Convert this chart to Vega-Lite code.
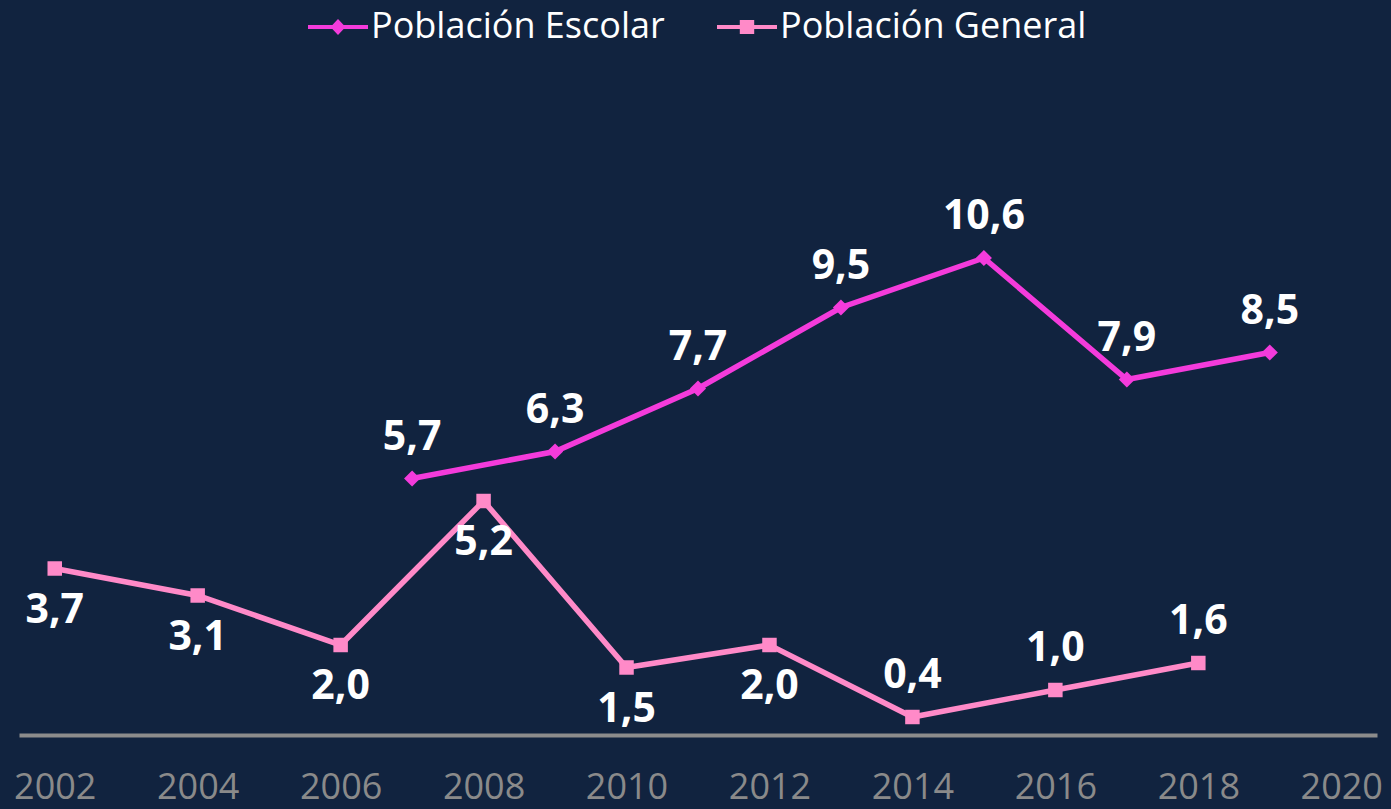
{
  "$schema": "https://vega.github.io/schema/vega-lite/v6.json",
  "width": 1358,
  "height": 675,
  "autosize": {"type": "none"},
  "padding": {"left": 19, "top": 60, "right": 14, "bottom": 74},
  "background": "#11233F",
  "config": {"view": {"stroke": null}, "font": "Open Sans"},
  "data": {
    "values": [
      {"year": 2007, "value": 5.7, "series": "Población Escolar", "label": "5,7", "pos": "above"},
      {"year": 2009, "value": 6.3, "series": "Población Escolar", "label": "6,3", "pos": "above"},
      {"year": 2011, "value": 7.7, "series": "Población Escolar", "label": "7,7", "pos": "above"},
      {"year": 2013, "value": 9.5, "series": "Población Escolar", "label": "9,5", "pos": "above"},
      {"year": 2015, "value": 10.6, "series": "Población Escolar", "label": "10,6", "pos": "above"},
      {"year": 2017, "value": 7.9, "series": "Población Escolar", "label": "7,9", "pos": "above"},
      {"year": 2019, "value": 8.5, "series": "Población Escolar", "label": "8,5", "pos": "above"},
      {"year": 2002, "value": 3.7, "series": "Población General", "label": "3,7", "pos": "below"},
      {"year": 2004, "value": 3.1, "series": "Población General", "label": "3,1", "pos": "below"},
      {"year": 2006, "value": 2.0, "series": "Población General", "label": "2,0", "pos": "below"},
      {"year": 2008, "value": 5.2, "series": "Población General", "label": "5,2", "pos": "below"},
      {"year": 2010, "value": 1.5, "series": "Población General", "label": "1,5", "pos": "below"},
      {"year": 2012, "value": 2.0, "series": "Población General", "label": "2,0", "pos": "below"},
      {"year": 2014, "value": 0.4, "series": "Población General", "label": "0,4", "pos": "above"},
      {"year": 2016, "value": 1.0, "series": "Población General", "label": "1,0", "pos": "above"},
      {"year": 2018, "value": 1.6, "series": "Población General", "label": "1,6", "pos": "above"}
    ]
  },
  "encoding": {
    "x": {
      "field": "year", "type": "quantitative",
      "scale": {"domain": [2001.5, 2020.5], "nice": false, "zero": false},
      "axis": {
        "title": null, "values": [2002, 2004, 2006, 2008, 2010, 2012, 2014, 2016, 2018, 2020],
        "format": "d", "grid": false, "ticks": false,
        "domainColor": "#8C8C8C", "domainWidth": 4,
        "labelColor": "#8A8A8A", "labelFontSize": 36, "labelFont": "Open Sans",
        "labelPadding": 35, "labelFlush": false, "labelOverlap": false
      }
    },
    "y": {
      "field": "value", "type": "quantitative",
      "scale": {"domain": [0, 15], "nice": false},
      "axis": null
    }
  },
  "layer": [
    {
      "mark": {"type": "line", "strokeWidth": 5.5},
      "encoding": {
        "color": {
          "field": "series", "type": "nominal",
          "scale": {"domain": ["Población Escolar", "Población General"], "range": ["#F43BDB", "#FF8AC8"]},
          "legend": {
            "title": null, "orient": "none", "direction": "horizontal",
            "legendX": 289, "legendY": -63, "padding": 0,
            "symbolType": "M-1,-0.07L1,-0.07L1,0.07L-1,0.07Z",
            "symbolSize": 3600, "symbolStrokeWidth": 0,
            "labelFontSize": 36, "labelColor": "#FFFFFF", "labelFont": "Open Sans",
            "labelLimit": 800,
            "labelOffset": 3, "columnPadding": 52,
            "encode": {
              "symbols": {
                "update": {
                  "shape": {"signal": "datum.value === 'Población Escolar' ? 'M-1,-0.07L1,-0.07L1,0.07L-1,0.07Z M0,-0.27L0.25,0L0,0.27L-0.25,0Z' : 'M-1,-0.07L1,-0.07L1,0.07L-1,0.07Z M-0.24,-0.23L0.24,-0.23L0.24,0.23L-0.24,0.23Z'"},
                  "fill": {"scale": "color", "field": "value"},
                  "fillOpacity": {"value": 1},
                  "strokeWidth": {"value": 0}
                }
              }
            }
          }
        }
      }
    },
    {
      "transform": [{"filter": "datum.series === 'Población Escolar'"}],
      "mark": {"type": "point", "filled": true, "opacity": 1, "shape": "diamond", "size": 260},
      "encoding": {"color": {"field": "series", "type": "nominal"}}
    },
    {
      "transform": [{"filter": "datum.series === 'Población General'"}],
      "mark": {"type": "point", "filled": true, "opacity": 1, "shape": "square", "size": 210},
      "encoding": {"color": {"field": "series", "type": "nominal"}}
    },
    {
      "transform": [{"filter": "datum.pos === 'above'"}],
      "mark": {"type": "text", "dy": -41, "fontSize": 41, "fontWeight": "bold", "font": "Open Sans"},
      "encoding": {"text": {"field": "label"}, "color": {"value": "#FFFFFF"}}
    },
    {
      "transform": [{"filter": "datum.pos === 'below'"}],
      "mark": {"type": "text", "dy": 42, "fontSize": 41, "fontWeight": "bold", "font": "Open Sans"},
      "encoding": {"text": {"field": "label"}, "color": {"value": "#FFFFFF"}}
    }
  ]
}
